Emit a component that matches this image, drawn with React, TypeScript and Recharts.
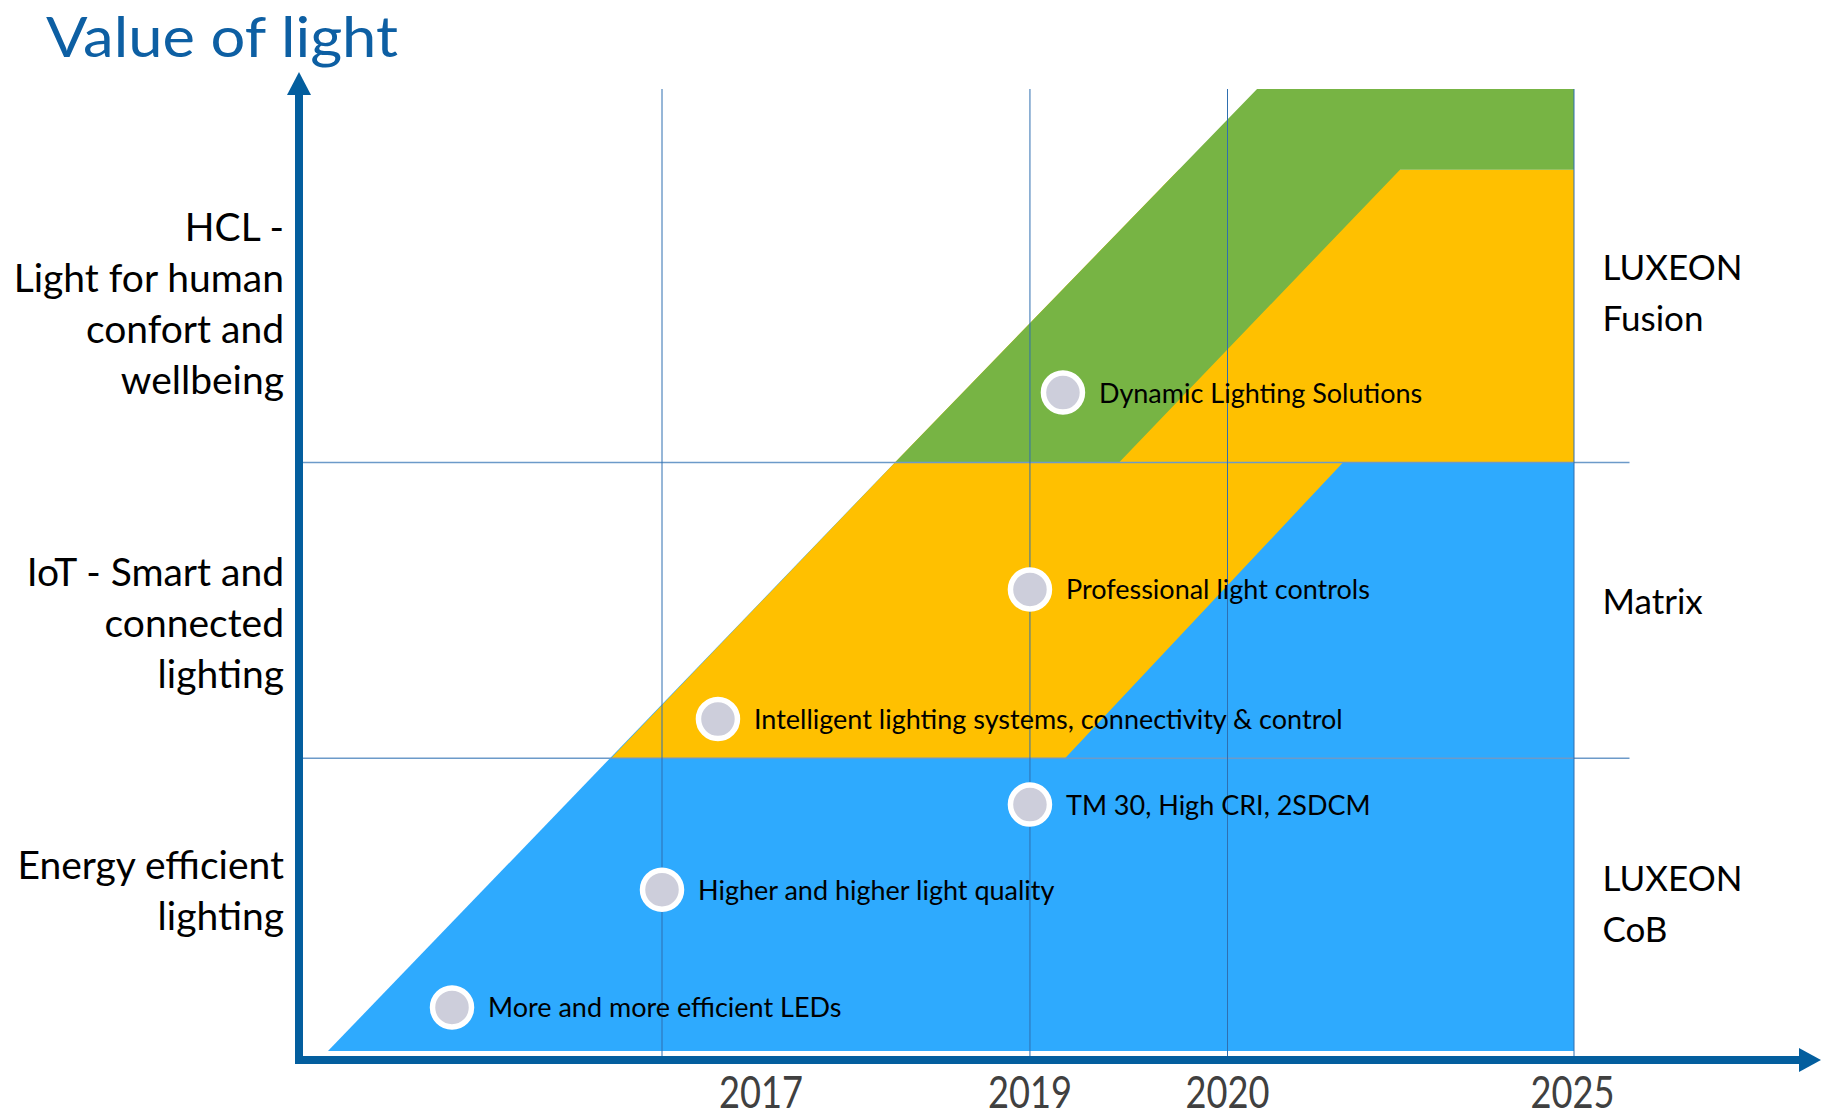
import React from 'react';
import { ComposedChart, Area, Scatter, XAxis, YAxis, ReferenceLine } from 'recharts';

// x: position on the timeline (0-100), y: value of light (0-3.25)
const yearTicks = [30.8, 48.73, 61.9, 84.9];
const yearLabels = ['2017', '2019', '2020', '2025'];
const yearLines = [24.2, 48.73, 61.9, 85.0];

const tierLines = [1.01, 2.0];
const tierEnd = 88.7;
const tierTicks = [0.563, 1.459, 2.53];
const tierLabels = [
    ['Energy efficient', 'lighting'],
    ['IoT - Smart and', 'connected', 'lighting'],
    ['HCL -', 'Light for human', 'confort and', 'wellbeing'],
];

// each band: for a value level y, the span of the timeline it covers
const blueBand = [
    { y: 0.03, span: [1.93, 85.0] },
    { y: 2.0, span: [39.73, 85.0] },
];
const yellowBand = [
    { y: 1.01, span: [20.8, 51.07] },
    { y: 2.0, span: [39.73, 69.6] },
    { y: 2.0, span: [39.73, 85.0] },
    { y: 2.98, span: [58.65, 85.0] },
];
const greenBand = [
    { y: 2.0, span: [39.73, 54.67] },
    { y: 2.98, span: [58.65, 73.4] },
    { y: 2.98, span: [58.65, 85.0] },
    { y: 3.25, span: [63.87, 85.0] },
];

const milestones = [
    { x: 10.2, y: 0.176, label: 'More and more efficient LEDs' },
    { x: 24.2, y: 0.57, label: 'Higher and higher light quality' },
    { x: 48.73, y: 0.855, label: 'TM 30, High CRI, 2SDCM' },
    { x: 27.93, y: 1.141, label: 'Intelligent lighting systems, connectivity & control' },
    { x: 48.73, y: 1.575, label: 'Professional light controls' },
    { x: 50.93, y: 2.234, label: 'Dynamic Lighting Solutions' },
];

const products = [
    { x: 86.9, y: 0.522, lines: ['LUXEON', 'CoB'] },
    { x: 86.9, y: 1.533, lines: ['Matrix'] },
    { x: 86.9, y: 2.564, lines: ['LUXEON', 'Fusion'] },
];

const FONT = 'Lato, "Open Sans", sans-serif';
const AXIS = '#035E9E';
const COLORS = { blue: '#2EAAFE', yellow: '#FFC000', green: '#77B444' };

const TierTick = (props: any) => {
    const { x, y, payload } = props;
    const lines = tierLabels[tierTicks.indexOf(payload.value)] || [];
    const lh = 51;
    const top = y - ((lines.length - 1) * lh) / 2 + 13;
    return (
        <text textAnchor="end" fontFamily={FONT} fontSize={39} fill="#000">
            {lines.map((l, i) => (
                <tspan key={i} x={x} y={top + i * lh}>{l}</tspan>
            ))}
        </text>
    );
};

const YearTick = (props: any) => {
    const { x, y, payload } = props;
    const label = yearLabels[yearTicks.indexOf(payload.value)];
    return (
        <text x={x} y={y + 48} textAnchor="middle" fontFamily={FONT} fontSize={44} fill="#404040"
            textLength={84} lengthAdjust="spacingAndGlyphs">
            {label}
        </text>
    );
};

const Milestone = (props: any) => {
    const { cx, cy, payload } = props;
    return (
        <g>
            <circle cx={cx} cy={cy} r={19.5} fill="#CDCEDB" stroke="#fff" strokeWidth={5.5} />
            <text x={cx + 36} y={cy + 10} fontFamily={FONT} fontSize={27} fill="#000">{payload.label}</text>
        </g>
    );
};

const Product = (props: any) => {
    const { cx, cy, payload } = props;
    const lh = 51;
    const top = cy - ((payload.lines.length - 1) * lh) / 2 + 12;
    return (
        <text fontFamily={FONT} fontSize={35} fill="#000">
            {payload.lines.map((l: string, i: number) => (
                <tspan key={i} x={cx} y={top + i * lh}>{l}</tspan>
            ))}
        </text>
    );
};

const arrowLine = (id: string, cap: 'butt' | 'square') => (p: any) => (
    <line x1={p.x1} y1={p.y1} x2={p.x2} y2={p.y2} stroke={AXIS} strokeWidth={8}
        strokeLinecap={cap} markerEnd={`url(#${id})`} />
);

const App: React.FC = () => (
    <div style={{ position: 'fixed', left: 0, top: 0, width: 1821, height: 1116, background: '#fff' }}>
        <svg width={1821} height={1116} style={{ position: 'absolute', left: 0, top: 0, pointerEvents: 'none' }}>
            <defs>
                <marker id="arrowX" markerWidth={22} markerHeight={24} refX={0} refY={12}
                    orient="auto" markerUnits="userSpaceOnUse">
                    <path d="M0,0 L22,12 L0,24 Z" fill={AXIS} />
                </marker>
                <marker id="arrowY" markerWidth={23} markerHeight={24} refX={6} refY={12}
                    orient="auto" markerUnits="userSpaceOnUse">
                    <path d="M0,0 L23,12 L0,24 Z" fill={AXIS} />
                </marker>
            </defs>
            <text x={46} y={57} fontFamily={FONT} fontSize={57} fill="#0D5FA3"
                textLength={352} lengthAdjust="spacingAndGlyphs">Value of light</text>
        </svg>
        <div style={{ position: 'absolute', left: 0, top: 0 }}>
            <ComposedChart width={1821} height={1116} layout="vertical"
                margin={{ top: 89, right: 22, bottom: 0, left: 0 }}>
                <XAxis type="number" dataKey="x" domain={[0, 100]} allowDataOverflow
                    ticks={yearTicks} interval={0} axisLine={false} tickLine={false}
                    tickSize={0} tickMargin={0} height={56} tick={<YearTick />} />
                <YAxis type="number" dataKey="y" domain={[0, 3.25]} allowDataOverflow reversed
                    ticks={tierTicks} interval={0} axisLine={false} tickLine={false}
                    tickSize={0} tickMargin={15} width={299} tick={<TierTick />} />
                <Area data={blueBand} dataKey="span" type="linear" fill={COLORS.blue} fillOpacity={1}
                    stroke="none" dot={false} activeDot={false} isAnimationActive={false} />
                <Area data={yellowBand} dataKey="span" type="linear" fill={COLORS.yellow} fillOpacity={1}
                    stroke="none" dot={false} activeDot={false} isAnimationActive={false} />
                <Area data={greenBand} dataKey="span" type="linear" fill={COLORS.green} fillOpacity={1}
                    stroke="none" dot={false} activeDot={false} isAnimationActive={false} />
                {tierLines.map((v) => (
                    <ReferenceLine key={`t${v}`} segment={[{ x: 0, y: v }, { x: tierEnd, y: v }]}
                        stroke="#6C9AC9" strokeWidth={1.5} ifOverflow="visible" />
                ))}
                {yearLines.map((v) => (
                    <ReferenceLine key={`y${v}`} x={v} stroke="#2F6FB0" strokeWidth={1} ifOverflow="visible" />
                ))}
                <Scatter data={milestones} shape={<Milestone />} isAnimationActive={false} />
                <Scatter data={products} shape={<Product />} isAnimationActive={false} />
                <ReferenceLine segment={[{ x: 0, y: 0 }, { x: 100, y: 0 }]} ifOverflow="visible"
                    shape={arrowLine('arrowX', 'square')} />
                <ReferenceLine segment={[{ x: 0, y: 0 }, { x: 0, y: 3.25 }]} ifOverflow="visible"
                    shape={arrowLine('arrowY', 'butt')} />
            </ComposedChart>
        </div>
    </div>
);

export default App;
